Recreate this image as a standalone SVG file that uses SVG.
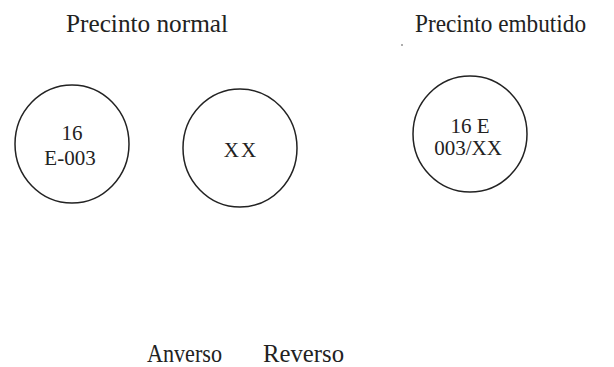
<svg xmlns="http://www.w3.org/2000/svg" width="614" height="367" viewBox="0 0 614 367">
<style>
text{font-family:"Liberation Serif","Times New Roman","DejaVu Serif",serif;fill:#222}
.t{font-size:26px}
.c{font-size:21px;text-anchor:middle}
.s{fill:none;stroke:#222;stroke-width:1.5}
</style>
<rect width="614" height="367" fill="#fff"/>
<g id="title-normal"><text class="t" x="66" y="32" textLength="162" lengthAdjust="spacingAndGlyphs">Precinto normal</text></g>
<g id="title-embutido"><text class="t" x="415" y="32" textLength="171" lengthAdjust="spacingAndGlyphs">Precinto embutido</text><circle cx="402" cy="45" r="0.8" fill="#444"/></g>
<g id="anverso">
<ellipse class="s" cx="72" cy="144" rx="57" ry="59"/>
<text class="c" x="72" y="140">16</text>
<text class="c" x="70" y="165">E-003</text>
</g>
<g id="reverso">
<ellipse class="s" cx="240" cy="148" rx="57" ry="59"/>
<text class="c" x="241" y="157" letter-spacing="2">XX</text>
</g>
<g id="embutido">
<ellipse class="s" cx="470" cy="134" rx="57" ry="58"/>
<text class="c" x="470" y="133">16 E</text>
<text class="c" x="468" y="155">003/XX</text>
</g>
<g id="labels">
<text class="t" x="147" y="362" textLength="75" lengthAdjust="spacingAndGlyphs">Anverso</text>
<text class="t" x="263" y="362" textLength="81" lengthAdjust="spacingAndGlyphs">Reverso</text>
</g>
<g id="connectors"/>
</svg>
